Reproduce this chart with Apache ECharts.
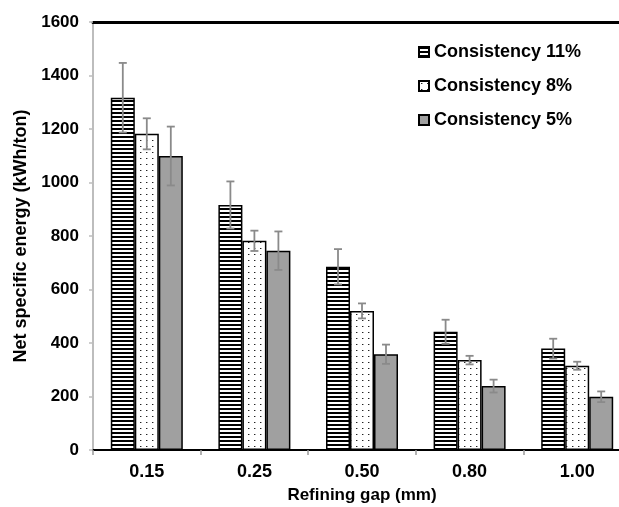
<!DOCTYPE html>
<html>
<head>
<meta charset="utf-8">
<script src="https://cdn.jsdelivr.net/npm/echarts@6/dist/echarts.min.js"></script>
<style>html,body{margin:0;padding:0;background:#fff}#c{width:619px;height:507px}</style>
</head>
<body>
<div id="c"></div>
<script>
var categories = ['0.15', '0.25', '0.50', '0.80', '1.00'];
var seriesNames = ['Consistency 11%', 'Consistency 8%', 'Consistency 5%'];
var c11 = [1317, 916, 685, 442, 379];
var c8 = [1182, 782, 520, 336, 315];
var c5 = [1099, 745, 358, 239, 199];
var e11 = [130, 88, 66, 45, 37];
var e8 = [58, 38, 28, 16, 15];
var e5 = [110, 72, 36, 24, 20];
var yTicks = [0, 200, 400, 600, 800, 1000, 1200, 1400, 1600];

function stripePattern() {
  var c = document.createElement('canvas');
  c.width = 4; c.height = 4;
  var g = c.getContext('2d');
  g.fillStyle = '#fff'; g.fillRect(0, 0, 4, 4);
  g.fillStyle = '#000'; g.fillRect(0, 0, 4, 2);
  return c;
}
function dotPattern() {
  var c = document.createElement('canvas');
  c.width = 6; c.height = 6;
  var g = c.getContext('2d');
  g.fillStyle = '#fff'; g.fillRect(0, 0, 6, 6);
  g.fillStyle = '#222'; g.fillRect(2, 2, 1, 1);
  g.fillStyle = 'rgba(0,0,0,0.35)'; g.fillRect(3, 2, 1, 1);
  return c;
}

var font = 'Liberation Sans, Arial, sans-serif';
var fills = [
  { image: stripePattern(), repeat: 'repeat' },
  { image: dotPattern(), repeat: 'repeat' },
  '#a0a0a0'
];
var vals = [c11, c8, c5];
var errs = [e11, e8, e5];
var BAR_W = 24;

var series = [];
for (var s = 0; s < 3; s++) {
  series.push({
    name: seriesNames[s],
    type: 'bar',
    barWidth: BAR_W,
    barGap: '0%',
    data: vals[s],
    itemStyle: { color: fills[s], borderColor: '#000', borderWidth: 1.5 },
    emphasis: { disabled: true }
  });
}
for (var s2 = 0; s2 < 3; s2++) {
  (function (idx) {
    series.push({
      type: 'custom',
      z: 10,
      silent: true,
      data: categories.map(function (c, i) { return [i, vals[idx][i] - errs[idx][i], vals[idx][i] + errs[idx][i]]; }),
      renderItem: function (params, api) {
        var i = api.value(0);
        var lo = api.coord([i, api.value(1)]);
        var hi = api.coord([i, api.value(2)]);
        var x = lo[0] + (idx - 1) * BAR_W;
        var cap = 4;
        var st = { stroke: '#8a8a8a', lineWidth: 1.8 };
        return {
          type: 'group',
          children: [
            { type: 'line', shape: { x1: x, y1: lo[1], x2: x, y2: hi[1] }, style: st },
            { type: 'line', shape: { x1: x - cap, y1: lo[1], x2: x + cap, y2: lo[1] }, style: st },
            { type: 'line', shape: { x1: x - cap, y1: hi[1], x2: x + cap, y2: hi[1] }, style: st }
          ]
        };
      },
      encode: { x: 0, y: [1, 2] }
    });
  })(s2);
}

var chart = echarts.init(document.getElementById('c'), null, { renderer: 'canvas' });
chart.setOption({
  animation: false,
  backgroundColor: '#fff',
  textStyle: { fontFamily: font },
  grid: { left: 93, top: 22, bottom: 57, width: 538, containLabel: false, outerBoundsMode: 'none' },
  legend: {
    orient: 'vertical',
    left: 413,
    top: 38,
    itemWidth: 10,
    itemHeight: 10,
    itemGap: 16,
    icon: 'rect',
    data: seriesNames,
    textStyle: { fontFamily: font, fontWeight: 'bold', fontSize: 18, color: '#000' }
  },
  xAxis: [{
    type: 'category',
    data: categories,
    name: 'Refining gap (mm)',
    nameLocation: 'middle',
    nameGap: 37,
    nameTextStyle: { fontFamily: font, fontWeight: 'bold', fontSize: 17, color: '#000' },
    axisLine: { lineStyle: { color: '#000', width: 2 } },
    axisTick: { show: true, length: 5, lineStyle: { color: '#999', width: 1.5 } },
    axisLabel: { fontFamily: font, fontWeight: 'bold', fontSize: 18, color: '#000', margin: 13 }
  }, {
    type: 'category',
    data: categories,
    position: 'top',
    axisLine: { lineStyle: { color: '#000', width: 3 } },
    axisTick: { show: false },
    axisLabel: { show: false }
  }],
  yAxis: {
    type: 'value',
    min: 0,
    max: 1600,
    interval: 200,
    name: 'Net specific energy (kWh/ton)',
    nameLocation: 'middle',
    nameGap: 62,
    nameTextStyle: { fontFamily: font, fontWeight: 'bold', fontSize: 18, color: '#000' },
    axisLine: { show: true, lineStyle: { color: '#bdbdbd', width: 2 } },
    axisTick: { show: true, length: 4, lineStyle: { color: '#bdbdbd', width: 1.5 } },
    splitLine: { show: false },
    axisLabel: {
      fontFamily: font, fontWeight: 'bold', fontSize: 17, color: '#000', margin: 14,
      formatter: function (v) { return yTicks.indexOf(v) >= 0 ? String(v) : ''; }
    }
  },
  series: series
});
</script>
</body>
</html>
